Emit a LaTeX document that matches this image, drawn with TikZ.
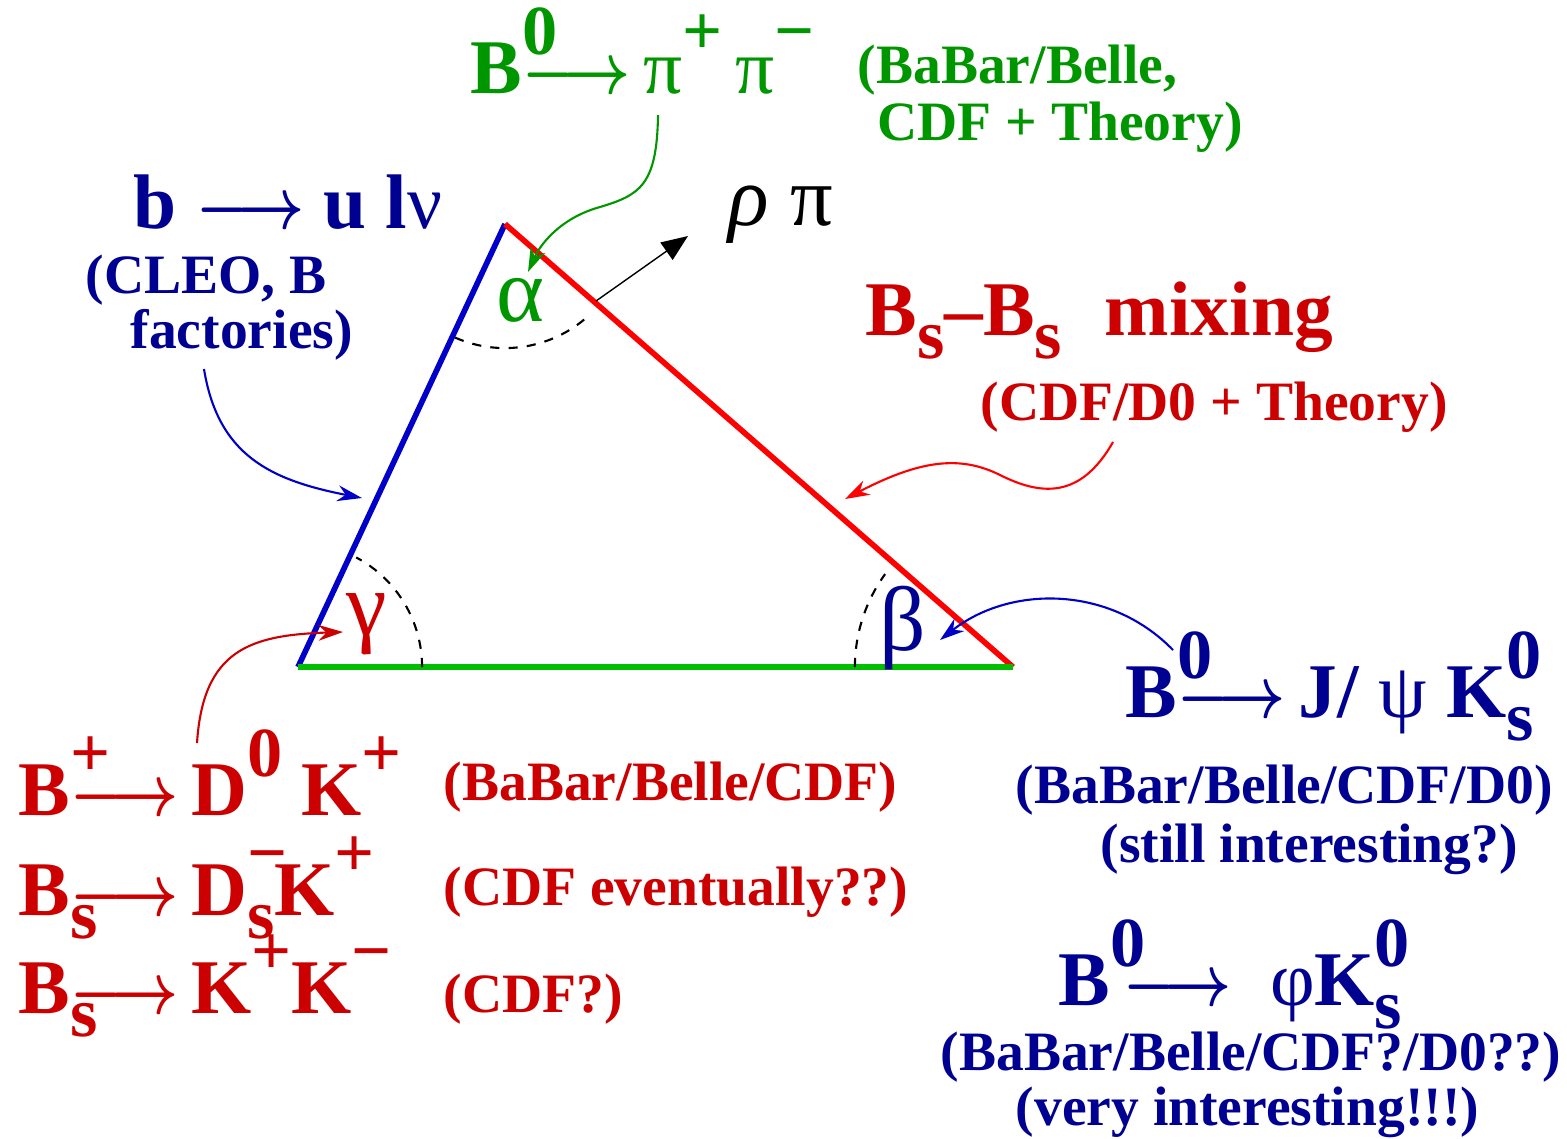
\documentclass[tikz,border=0pt]{standalone}
\usepackage{fontspec}
\setmainfont{Liberation Serif}
\usepackage{graphicx}
\usepackage{tikz}
\usetikzlibrary{arrows.meta, positioning}

\definecolor{grntxt}{RGB}{0,150,0}
\definecolor{grnline}{RGB}{0,190,0}
\definecolor{redtxt}{RGB}{204,0,0}
\definecolor{redline}{RGB}{255,0,0}
\definecolor{blutxt}{RGB}{0,0,145}
\definecolor{bluline}{RGB}{0,0,200}

% scripts and arrow used in the decay formulas
\newcommand{\supx}[1]{\raisebox{0.5em}{\fontsize{20}{20}\selectfont #1}}
\newcommand{\subx}[1]{\raisebox{-0.3em}{\fontsize{20}{20}\selectfont #1}}
\newcommand{\supsubx}[2]{\rlap{\supx{#1}}\subx{#2}}
\newcommand{\arr}{\scalebox{0.8}[1]{\boldmath$\longrightarrow$}}

\tikzstyle{decay} = [inner sep=0pt, anchor=base west, font=\bfseries\fontsize{22}{24}\selectfont]
\tikzstyle{note} = [inner sep=0pt, anchor=base west, font=\bfseries\fontsize{15.8}{18}\selectfont]
\tikzstyle{greek} = [inner sep=0pt, font=\fontsize{26}{28}\selectfont]
\tikzstyle{side} = [draw, line width=1.6pt]
\tikzstyle{angle} = [draw=black, line width=0.6pt, dash pattern=on 2.6pt off 2.6pt]
\tikzstyle{line} = [draw, line width=0.6pt, -{Stealth[length=7pt,width=4.5pt]}]

\begin{document}
\begin{tikzpicture}[x=0.01cm, y=-0.01cm]
        \useasboundingbox (0,0) rectangle (1567,1138);

        % Triangle
        \coordinate (gam) at (298,667);
        \coordinate (alp) at (505,224);
        \coordinate (bet) at (1013,667);
        \draw [side, bluline] (gam) -- (alp);
        \draw [side, redline] (alp) -- (bet);
        \draw [side, grnline] (gam) -- (bet);
        \draw [angle] (gam) ++(0:1.24cm) arc [start angle=0, end angle=62, radius=1.24cm];
        \draw [angle] (alp) ++(246.3:1.24cm) arc [start angle=246.3, end angle=312.4, radius=1.24cm];
        \draw [angle] (bet) ++(180:1.58cm) arc [start angle=180, end angle=144, radius=1.58cm];

        % Angles
        \node [greek, text=grntxt] (alabel) at (520,300) {α};
        \node [greek, text=redtxt] (glabel) at (367,624) {γ};
        \node [greek, text=blutxt] (blabel) at (903,628) {β};

        % Decays and experiments
        \node [decay, text=grntxt] (bpipi) at (470,93) {B\rlap{\supx{0}}\arr\,\textmd{π}\supx{+}\,\textmd{π}\supx{−}};
        \node [note, text=grntxt] (bpipia) at (857,83) {(BaBar/Belle,};
        \node [note, text=grntxt] (bpipib) at (877,140) {CDF + Theory)};

        \node [decay, text=blutxt] (bulnu) at (133,228) {b \arr\ u l\textmd{ν}};
        \node [note, text=blutxt] (bulnua) at (85,293) {(CLEO, B};
        \node [note, text=blutxt] (bulnub) at (130,348) {factories)};

        \node [decay, text=redtxt] (mix) at (865,335) {B\subx{s}–B\subx{s}\hspace{0.55em}mixing};
        \node [note, text=redtxt] (mixa) at (980,420) {(CDF/D0 + Theory)};

        \node [decay, text=redtxt] (bdk) at (18,815) {B\rlap{\supx{+}}\arr\,D\supx{0} K\supx{+}};
        \node [note, text=redtxt] (bdka) at (443,800) {(BaBar/Belle/CDF)};
        \node [decay, text=redtxt] (bsdk) at (18,915) {B\rlap{\subx{s}}\arr\,D\supsubx{−}{s}K\supx{+}};
        \node [note, text=redtxt] (bsdka) at (443,905) {(CDF eventually??)};
        \node [decay, text=redtxt] (bskk) at (18,1013) {B\rlap{\subx{s}}\arr\,K\supx{+}K\supx{−}};
        \node [note, text=redtxt] (bskka) at (443,1012) {(CDF?)};

        \node [decay, text=blutxt] (bpsik) at (1125,717) {B\rlap{\supx{0}}\arr\,J/\ \textmd{ψ}\ K\supsubx{0}{s}};
        \node [note, text=blutxt] (bpsika) at (1015,803) {(BaBar/Belle/CDF/D0)};
        \node [note, text=blutxt] (bpsikb) at (1100,862) {(still interesting?)};

        \node [decay, text=blutxt] (bphik) at (1058,1005) {B\rlap{\supx{0}}\,\arr\ \ \textmd{φ}K\supsubx{0}{s}};
        \node [note, text=blutxt] (bphika) at (940,1070) {(BaBar/Belle/CDF?/D0??)};
        \node [note, text=blutxt] (bphikb) at (1015,1125) {(very interesting!!!)};

        \node [inner sep=0pt, anchor=base west, font=\fontsize{24}{26}\selectfont] (rhopi) at (728,225) {\textit{ρ} π};

        % Arrows
        \coordinate (gsrc) at (658,115);
        \coordinate (gtip) at (528,272);
        \coordinate (fsrc) at (204,369);
        \coordinate (ftip) at (362,498);
        \coordinate (msrc) at (1113,442);
        \coordinate (mtip) at (845,499);
        \coordinate (ksrc) at (197,743);
        \coordinate (ktip) at (343,632);
        \coordinate (psrc) at (1173,650);
        \coordinate (ptip) at (940,640);
        \coordinate (rsrc) at (596,301);
        \coordinate (rtip) at (688,236);
        \path [line, grntxt] (gsrc) .. controls (657,185) and (640,195) .. (600,207) .. controls (560,218) and (540,245) .. (gtip);
        \path [line, bluline] (fsrc) .. controls (218,455) and (270,480) .. (ftip);
        \path [line, redline] (msrc) .. controls (1080,500) and (1040,495) .. (1000,475) .. controls (960,455) and (920,460) .. (mtip);
        \path [line, redtxt] (ksrc) .. controls (203,650) and (250,635) .. (ktip);
        \path [line, bluline] (psrc) .. controls (1110,585) and (1010,585) .. (ptip);
        \draw [line width=0.4pt, -{Triangle[length=7.5pt,width=6pt]}] (rsrc) -- (rtip);
    \end{tikzpicture}
\end{document}
